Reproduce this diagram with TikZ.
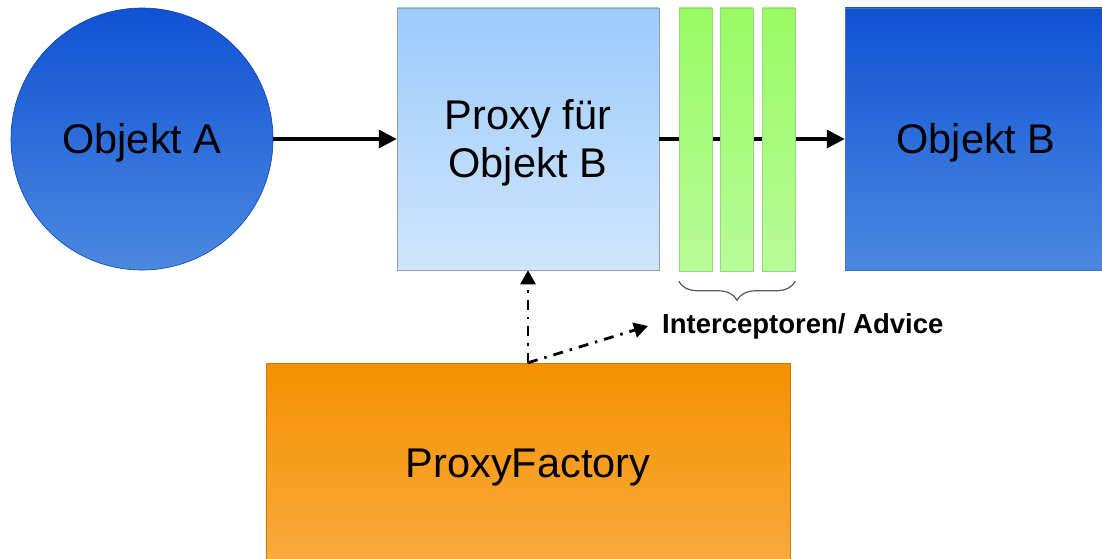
\documentclass[tikz,border=0pt]{standalone}
\usepackage{fontspec}
\setmainfont{Liberation Sans}
\usetikzlibrary{arrows.meta,decorations.pathreplacing}
\definecolor{blueTop}{HTML}{1052D4}
\definecolor{blueBot}{HTML}{4B89E0}
\definecolor{proxyTop}{HTML}{9CCBFD}
\definecolor{proxyBot}{HTML}{D0E5FB}
\definecolor{greenTop}{HTML}{99FB63}
\definecolor{greenBot}{HTML}{B7FB98}
\definecolor{orangeTop}{HTML}{F59000}
\definecolor{orangeBot}{HTML}{F8AB3E}
\begin{document}
\begin{tikzpicture}[x=1pt,y=-1pt,
  bigfont/.style={font=\fontsize{41.5}{48}\selectfont},
  bigtext/.style={bigfont, text height=29.7pt, text depth=0pt},
  box/.style={rectangle, inner sep=0pt},
  conn/.style={line width=3.5pt, -{Triangle[length=18pt,width=18pt]}},
  dd/.style={line width=2.8pt, dash pattern=on 10pt off 7pt on 2.5pt off 7pt, -{Triangle[length=14pt,width=15pt]}},
  gbar/.style={rectangle, inner sep=0pt, minimum width=33pt, minimum height=263pt, top color=greenTop, bottom color=greenBot, draw=greenBot!85!black, line width=0.5pt},
  bracestyle/.style={draw=black!65, line width=1.2pt, decorate, decoration={brace, mirror, amplitude=19pt}}
]
\useasboundingbox (0,0) rectangle (1102,559);
\clip (0,0) rectangle (1102,559);
\fill[white] (0,0) rectangle (1102,559);

\node[circle, minimum size=262pt, inner sep=0pt, bigtext, top color=blueTop, bottom color=blueBot, draw=blueTop!80!black, line width=0.6pt] (A) at (142,139) {Objekt A};

\node[box, bigfont, text depth=2pt, minimum width=262pt, minimum height=262pt, top color=proxyTop, bottom color=proxyBot, draw=proxyBot!70!black, line width=0.5pt, align=center] (P) at (528,139) {Proxy für\\Objekt B};

\node[box, bigtext, minimum width=262pt, minimum height=262pt, top color=blueTop, bottom color=blueBot, draw=blueBot!85!black, line width=0.5pt] (B) at (976,139) {Objekt B};

\node[box, bigtext, minimum width=524pt, minimum height=200pt, top color=orangeTop, bottom color=orangeBot, draw=orangeTop!85!black, line width=0.5pt] (PF) at (528,463) {ProxyFactory};

\draw[conn] (A) -- (P);
\draw[conn] (P) -- (B);

\node[gbar] (g1) at (695.5,139.5) {};
\node[gbar] (g2) at (736.5,139.5) {};
\node[gbar] (g3) at (778.5,139.5) {};

\draw[bracestyle] ([yshift=-10pt]g1.south west) -- ([yshift=-10pt]g3.south east);

\node[anchor=west, inner xsep=14pt, inner ysep=0pt, font=\bfseries\fontsize{27.5}{30}\selectfont] (L) at (648,326) {Interceptoren/ Advice};

\draw[dd] (PF.north) -- (P.south);
\draw[dd] (PF.north) -- (L.west);
\end{tikzpicture}
\end{document}
